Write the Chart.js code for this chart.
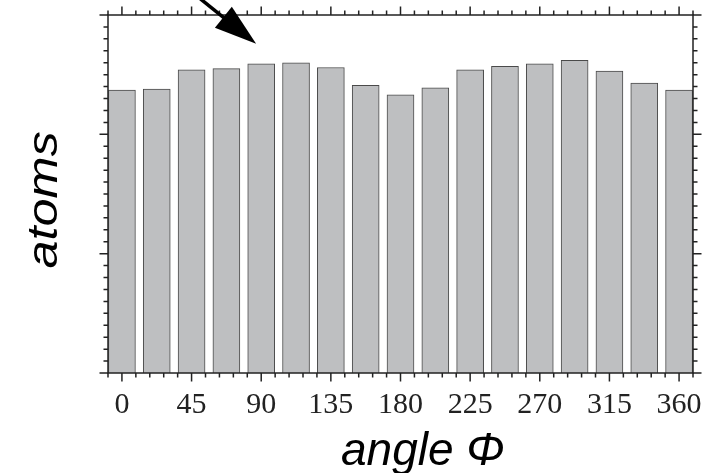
<!DOCTYPE html>
<html>
<head>
<meta charset="utf-8">
<script src="https://cdn.jsdelivr.net/npm/chart.js@4/dist/chart.umd.min.js"></script>
<style>
  html, body { margin: 0; padding: 0; background: #fff; }
  #wrap { width: 712px; height: 473px; }
</style>
</head>
<body>
<div id="wrap"><canvas id="barChart" width="712" height="473"></canvas></div>
<script>
// angle bins (degrees) and bar heights
const angles = [0, 22.5, 45, 67.5, 90, 112.5, 135, 157.5, 180, 202.5, 225, 247.5, 270, 292.5, 315, 337.5, 360];
const counts = [2.37, 2.38, 2.54, 2.55, 2.59, 2.60, 2.56, 2.41, 2.33, 2.39, 2.54, 2.57, 2.59, 2.62, 2.53, 2.43, 2.37];
const xLabels = [0, 45, 90, 135, 180, 225, 270, 315, 360];
// arrow in data units: [angle, value]
const arrowTail = [49.3, 3.15];
const arrowTip = [86.7, 2.76];

const frame = {
  id: 'frame',
  afterDraw(chart) {
    const ctx = chart.ctx;
    const a = chart.chartArea;
    const xs = chart.scales.x, ys = chart.scales.y;
    ctx.save();
    ctx.strokeStyle = '#222';
    ctx.lineWidth = 1.5;
    ctx.strokeRect(a.left, a.top, a.right - a.left, a.bottom - a.top);

    // x ticks, outward on top and bottom
    xs.ticks.forEach(t => {
      const px = xs.getPixelForValue(t.value);
      const major = xLabels.includes(t.value);
      const len = major ? 8.5 : 4.5;
      ctx.beginPath();
      ctx.moveTo(px, a.bottom); ctx.lineTo(px, a.bottom + len);
      ctx.moveTo(px, a.top); ctx.lineTo(px, a.top - len);
      ctx.stroke();
    });
    // y ticks, outward on left and right
    ys.ticks.forEach(t => {
      const py = ys.getPixelForValue(t.value);
      const major = Math.abs(t.value - Math.round(t.value)) < 1e-6;
      const len = major ? 8.5 : 4.5;
      ctx.beginPath();
      ctx.moveTo(a.left, py); ctx.lineTo(a.left - len, py);
      ctx.moveTo(a.right, py); ctx.lineTo(a.right + len, py);
      ctx.stroke();
    });

    // arrow
    const x0 = xs.getPixelForValue(arrowTail[0]), y0 = ys.getPixelForValue(arrowTail[1]);
    const x1 = xs.getPixelForValue(arrowTip[0]), y1 = ys.getPixelForValue(arrowTip[1]);
    const ang = Math.atan2(y1 - y0, x1 - x0);
    const headLen = 42, headHalf = 13.5;
    const bx = x1 - headLen * Math.cos(ang), by = y1 - headLen * Math.sin(ang);
    ctx.strokeStyle = '#000';
    ctx.lineWidth = 3.5;
    ctx.beginPath();
    ctx.moveTo(x0, y0); ctx.lineTo(bx + 2 * Math.cos(ang), by + 2 * Math.sin(ang));
    ctx.stroke();
    ctx.fillStyle = '#000';
    ctx.beginPath();
    ctx.moveTo(x1, y1);
    ctx.lineTo(bx + headHalf * Math.sin(ang), by - headHalf * Math.cos(ang));
    ctx.lineTo(bx - headHalf * Math.sin(ang), by + headHalf * Math.cos(ang));
    ctx.closePath();
    ctx.fill();

    // axis titles
    ctx.fillStyle = '#000';
    ctx.font = 'italic 46px "Liberation Sans", Arial, sans-serif';
    ctx.textAlign = 'left';
    ctx.textBaseline = 'alphabetic';
    ctx.fillText('angle Φ', 341, 465);

    ctx.translate(56.5, 200);
    ctx.rotate(-Math.PI / 2);
    ctx.scale(1.2, 1);
    ctx.font = 'italic 42px "Liberation Sans", Arial, sans-serif';
    ctx.textAlign = 'center';
    ctx.fillText('atoms', 0, 0);
    ctx.restore();
  }
};

const ctx = document.getElementById('barChart').getContext('2d');
const barChart = new Chart(ctx, {
  type: 'bar',
  data: {
    datasets: [{
      data: angles.map((a, i) => ({ x: a, y: counts[i] })),
      backgroundColor: '#bebfc1',
      borderColor: '#4a4a4a',
      borderWidth: 1,
      barThickness: 27,
      borderSkipped: 'bottom'
    }]
  },
  options: {
    responsive: false,
    animation: false,
    events: [],
    layout: { padding: { left: 108, right: 19, top: 15, bottom: 0 } },
    plugins: { legend: { display: false }, tooltip: { enabled: false } },
    scales: {
      x: {
        type: 'linear',
        offset: false,
        min: -9,
        max: 369,
        grid: { display: false, drawTicks: false, offset: false },
        border: { display: false },
        afterFit: s => { s.height = 100; },
        ticks: {
          stepSize: 9,
          maxTicksLimit: 100,
          autoSkip: false,
          maxRotation: 0,
          padding: 14,
          color: '#222',
          font: { family: '"Liberation Serif", "Times New Roman", serif', size: 30 },
          callback: v => xLabels.includes(v) ? String(v) : ''
        }
      },
      y: {
        min: 0,
        max: 3,
        grid: { display: false, drawTicks: false },
        border: { display: false },
        afterFit: s => { s.width = 0; },
        ticks: { stepSize: 0.1, maxTicksLimit: 100, display: false }
      }
    }
  },
  plugins: [frame]
});
</script>
</body>
</html>
